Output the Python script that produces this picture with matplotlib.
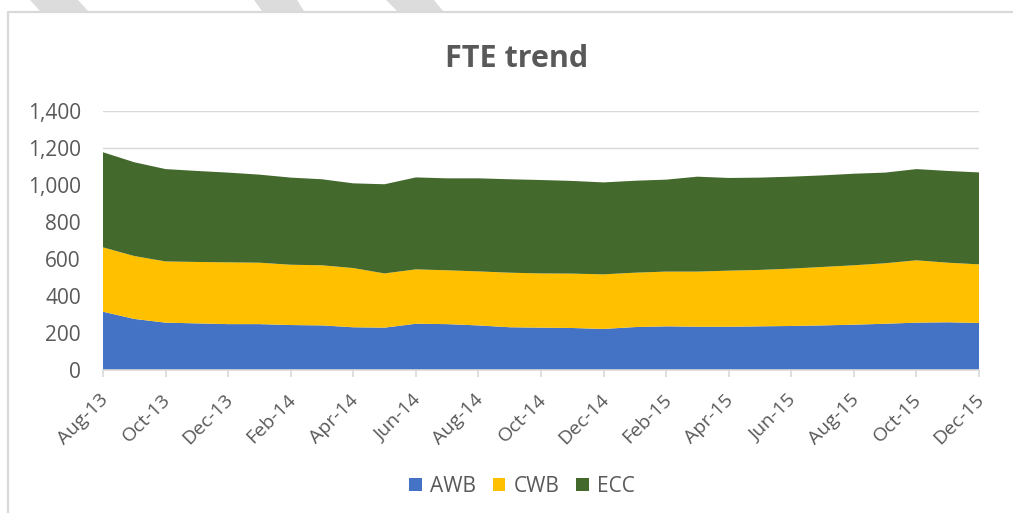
import matplotlib
matplotlib.use("Agg")
import matplotlib.pyplot as plt
from matplotlib.patches import Polygon, Patch
from matplotlib.lines import Line2D
import matplotlib.transforms as mtrans
import numpy as np

months = ["Aug-13", "Sep-13", "Oct-13", "Nov-13", "Dec-13", "Jan-14", "Feb-14", "Mar-14",
          "Apr-14", "May-14", "Jun-14", "Jul-14", "Aug-14", "Sep-14", "Oct-14", "Nov-14",
          "Dec-14", "Jan-15", "Feb-15", "Mar-15", "Apr-15", "May-15", "Jun-15", "Jul-15",
          "Aug-15", "Sep-15", "Oct-15", "Nov-15", "Dec-15"]
awb = [315, 276, 256, 252, 248, 248, 243, 241, 231, 229, 250, 248, 241, 231, 229, 227,
       222, 232, 236, 234, 234, 236, 238, 241, 245, 250, 256, 258, 254]
cwb = [348, 340, 331, 332, 334, 332, 326, 325, 320, 293, 294, 291, 292, 295, 293, 294,
       295, 294, 296, 298, 303, 305, 310, 316, 321, 327, 337, 322, 317]
ecc = [514, 507, 499, 492, 485, 476, 471, 465, 458, 482, 497, 497, 503, 505, 505, 501,
       497, 497, 497, 513, 501, 499, 497, 495, 495, 490, 493, 496, 497]
series_names = ["AWB", "CWB", "ECC"]
colors = ["#4472C4", "#FFC000", "#44692D"]
yticks = [0, 200, 400, 600, 800, 1000, 1200, 1400]

W, H = 1013, 513
FONT = "Open Sans"
TXT = "#595959"

fig = plt.figure(figsize=(W / 100, H / 100), dpi=100)
fig.patch.set_facecolor("white")

def fx(px):
    return px / W

def fy(py):
    return 1 - py / H

# decorative stripes at the top and frame
stripe_color = "#dcdcdc"
for (tl, tr, bl, br) in [(30, 78, 40, 88), (254, 297, 262, 304), (386, 434, 397, 443)]:
    fig.add_artist(Polygon([(fx(tl), fy(0)), (fx(tr), fy(0)), (fx(br), fy(11)), (fx(bl), fy(11))],
                           closed=True, transform=fig.transFigure, facecolor=stripe_color,
                           edgecolor="none"))
fig.add_artist(Line2D([fx(8), fx(8), fx(1013)], [fy(513), fy(12), fy(12)],
                      transform=fig.transFigure, color="#d9d9d9", lw=1.6))

ax = fig.add_axes([fx(103), fy(370), fx(979) - fx(103), fy(111) - fy(370)])
x = np.arange(len(months))
ax.stackplot(x, awb, cwb, ecc, colors=colors, labels=series_names, zorder=2, linewidth=0)

ax.set_xlim(0, len(months) - 1)
ax.set_ylim(0, 1400)
ax.set_yticks(yticks)
ax.set_yticklabels([f"{v:,}" for v in yticks], fontfamily=FONT, fontsize=15, color=TXT)
ax.yaxis.grid(True, color="#d9d9d9", lw=1.0, zorder=0)
ax.set_axisbelow(True)
ax.tick_params(axis="y", length=0, pad=16)

ax.set_xticks(x[::2])
ax.set_xticklabels(months[::2], fontfamily=FONT, fontsize=14, color=TXT,
                   rotation=45, ha="right", va="top", rotation_mode="anchor")
ax.tick_params(axis="x", length=5, color="#d9d9d9", width=1.2, pad=10)
offset = mtrans.ScaledTranslation(-4 / 100, 0, fig.dpi_scale_trans)
for lab in ax.get_xticklabels():
    lab.set_transform(lab.get_transform() + offset)

for s in ["top", "right", "left"]:
    ax.spines[s].set_visible(False)
ax.spines["bottom"].set_color("#d9d9d9")
ax.spines["bottom"].set_linewidth(1.2)
ax.spines["bottom"].set_zorder(3)

fig.text(fx(517), fy(59), "FTE trend", ha="center", va="center", fontfamily=FONT,
         fontsize=22, fontweight="bold", color=TXT)

handles = [Patch(facecolor=c, edgecolor="none") for c in colors]
leg = fig.legend(handles, series_names, loc="center", bbox_to_anchor=(fx(522), fy(486)),
                 ncol=3, frameon=False, prop={"family": FONT, "size": 15},
                 handlelength=0.6, handleheight=0.6, handletextpad=0.4, columnspacing=0.8)
for t in leg.get_texts():
    t.set_color(TXT)

fig.savefig("out.png", dpi=100, facecolor="white")
